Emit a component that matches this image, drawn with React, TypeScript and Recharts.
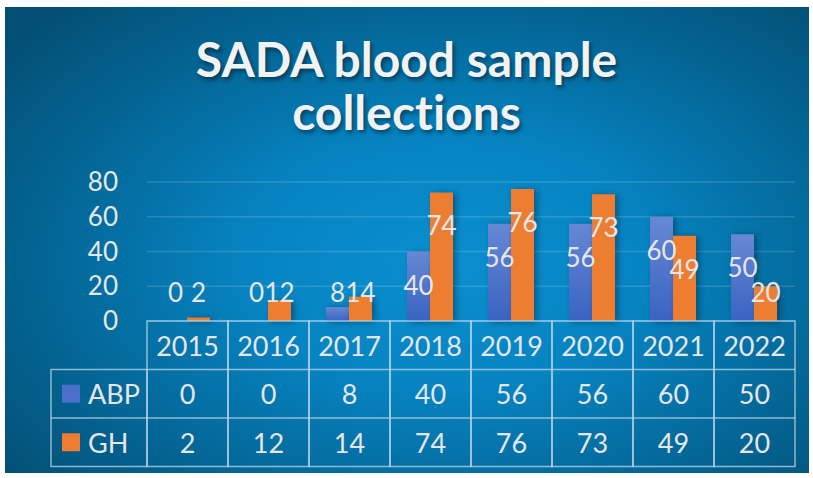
import React from 'react';
import { BarChart, Bar, XAxis, YAxis, CartesianGrid, LabelList } from 'recharts';

const years = ['2015', '2016', '2017', '2018', '2019', '2020', '2021', '2022'];
const abpValues = [0, 0, 8, 40, 56, 56, 60, 50];
const ghValues = [2, 12, 14, 74, 76, 73, 49, 20];
const yTicks = [0, 20, 40, 60, 80];
const seriesNames = ['ABP', 'GH'];
const seriesColors = ['url(#abpFill)', '#ed7d31'];
const legendSwatch = ['#4a70cc', '#ed7d31'];

const data = years.map((year, i) => ({ year, ABP: abpValues[i], GH: ghValues[i] }));

const FONT = 'Lato, "Open Sans", sans-serif';
const TEXT = '#e4e6e8';
const LINE = 'rgba(190, 215, 232, 0.75)';
const CELL_W = 81;
const ROW_H = 48.5;

const renderLabel = (props: any) => {
  const { x, y, width, height, value } = props;
  const base = y + height;
  const cy = Math.min(y + 33, base - 29);
  return (
    <text x={x + width / 2} y={cy} textAnchor="middle" dominantBaseline="central"
      fill={TEXT} fontSize={26} fontFamily={FONT}>
      {value}
    </text>
  );
};

const TableTick = (props: any) => {
  const { x, y, payload, index } = props;
  const left = x - CELL_W / 2;
  const rows = [payload.value, abpValues[index], ghValues[index]];
  return (
    <g>
      <rect x={left} y={y} width={CELL_W} height={ROW_H * 3} fill="none" stroke={LINE} strokeWidth={1.5} />
      <line x1={left} x2={left + CELL_W} y1={y + ROW_H} y2={y + ROW_H} stroke={LINE} strokeWidth={1.5} />
      <line x1={left} x2={left + CELL_W} y1={y + ROW_H * 2} y2={y + ROW_H * 2} stroke={LINE} strokeWidth={1.5} />
      {rows.map((v, r) => (
        <text key={r} x={x} y={y + ROW_H * r + ROW_H / 2} textAnchor="middle" dominantBaseline="central"
          fill={TEXT} fontSize={27} fontFamily={FONT}>
          {v}
        </text>
      ))}
      {index === 0 && (
        <g>
          <rect x={51} y={y + ROW_H} width={left - 51} height={ROW_H * 2} fill="none" stroke={LINE} strokeWidth={1.5} />
          <line x1={51} x2={left} y1={y + ROW_H * 2} y2={y + ROW_H * 2} stroke={LINE} strokeWidth={1.5} />
          {seriesNames.map((name, s) => (
            <g key={name}>
              <rect x={62} y={y + ROW_H * (s + 1) + ROW_H / 2 - 9} width={18} height={18} fill={legendSwatch[s]} />
              <text x={88} y={y + ROW_H * (s + 1) + ROW_H / 2} dominantBaseline="central"
                fill={TEXT} fontSize={27} fontFamily={FONT}>
                {name}
              </text>
            </g>
          ))}
        </g>
      )}
    </g>
  );
};

export default function App() {
  return (
    <div style={{ position: 'absolute', left: 0, top: 0, width: 813, height: 478, background: '#fff' }}>
      <style>{`.recharts-bar-rectangle path { filter: drop-shadow(3px 1px 3px rgba(0,0,0,0.35)); }`}</style>
      <div style={{
        position: 'absolute', left: 5, top: 7, width: 804, height: 466,
        background: 'radial-gradient(ellipse 70% 75% at 55% 55%, #0a8fd0 0%, #0684c2 35%, #036594 72%, #034f74 100%)',
      }} />
      <div style={{
        position: 'absolute', left: 0, top: 32, width: 813, textAlign: 'center',
        fontFamily: FONT, fontWeight: 700, fontSize: 48, lineHeight: '53px', color: '#f2f2f2',
        fontVariantLigatures: 'none', textShadow: '2px 3px 4px rgba(0,0,0,0.45)',
      }}>
        SADA blood sample<br />collections
      </div>
      <div style={{ position: 'absolute', left: 0, top: 0 }}>
        <BarChart width={813} height={478} data={data} barCategoryGap="21%" barGap={0}
          margin={{ top: 182, right: 18, bottom: 17, left: 0 }}>
          <defs>
            <linearGradient id="abpFill" x1="0" y1="0" x2="0" y2="1">
              <stop offset="0%" stopColor="#6688d4" />
              <stop offset="100%" stopColor="#3a63c2" />
            </linearGradient>
          </defs>
          <CartesianGrid vertical={false} stroke="rgba(255,255,255,0.15)" strokeWidth={1.5} />
          <YAxis domain={[0, 80]} ticks={yTicks} interval={0} width={147} axisLine={false} tickLine={false}
            tickSize={0} tickMargin={29} tick={{ fill: TEXT, fontSize: 26, fontFamily: FONT }} />
          <XAxis dataKey="year" height={140} axisLine={false} tickLine={false} tickSize={0}
            tickMargin={0} interval={0} tick={<TableTick />} />
          {seriesNames.map((name, s) => (
            <Bar key={name} dataKey={name} fill={seriesColors[s]} minPointSize={0.01} isAnimationActive={false}>
              <LabelList dataKey={name} content={renderLabel} />
            </Bar>
          ))}
        </BarChart>
      </div>
    </div>
  );
}
